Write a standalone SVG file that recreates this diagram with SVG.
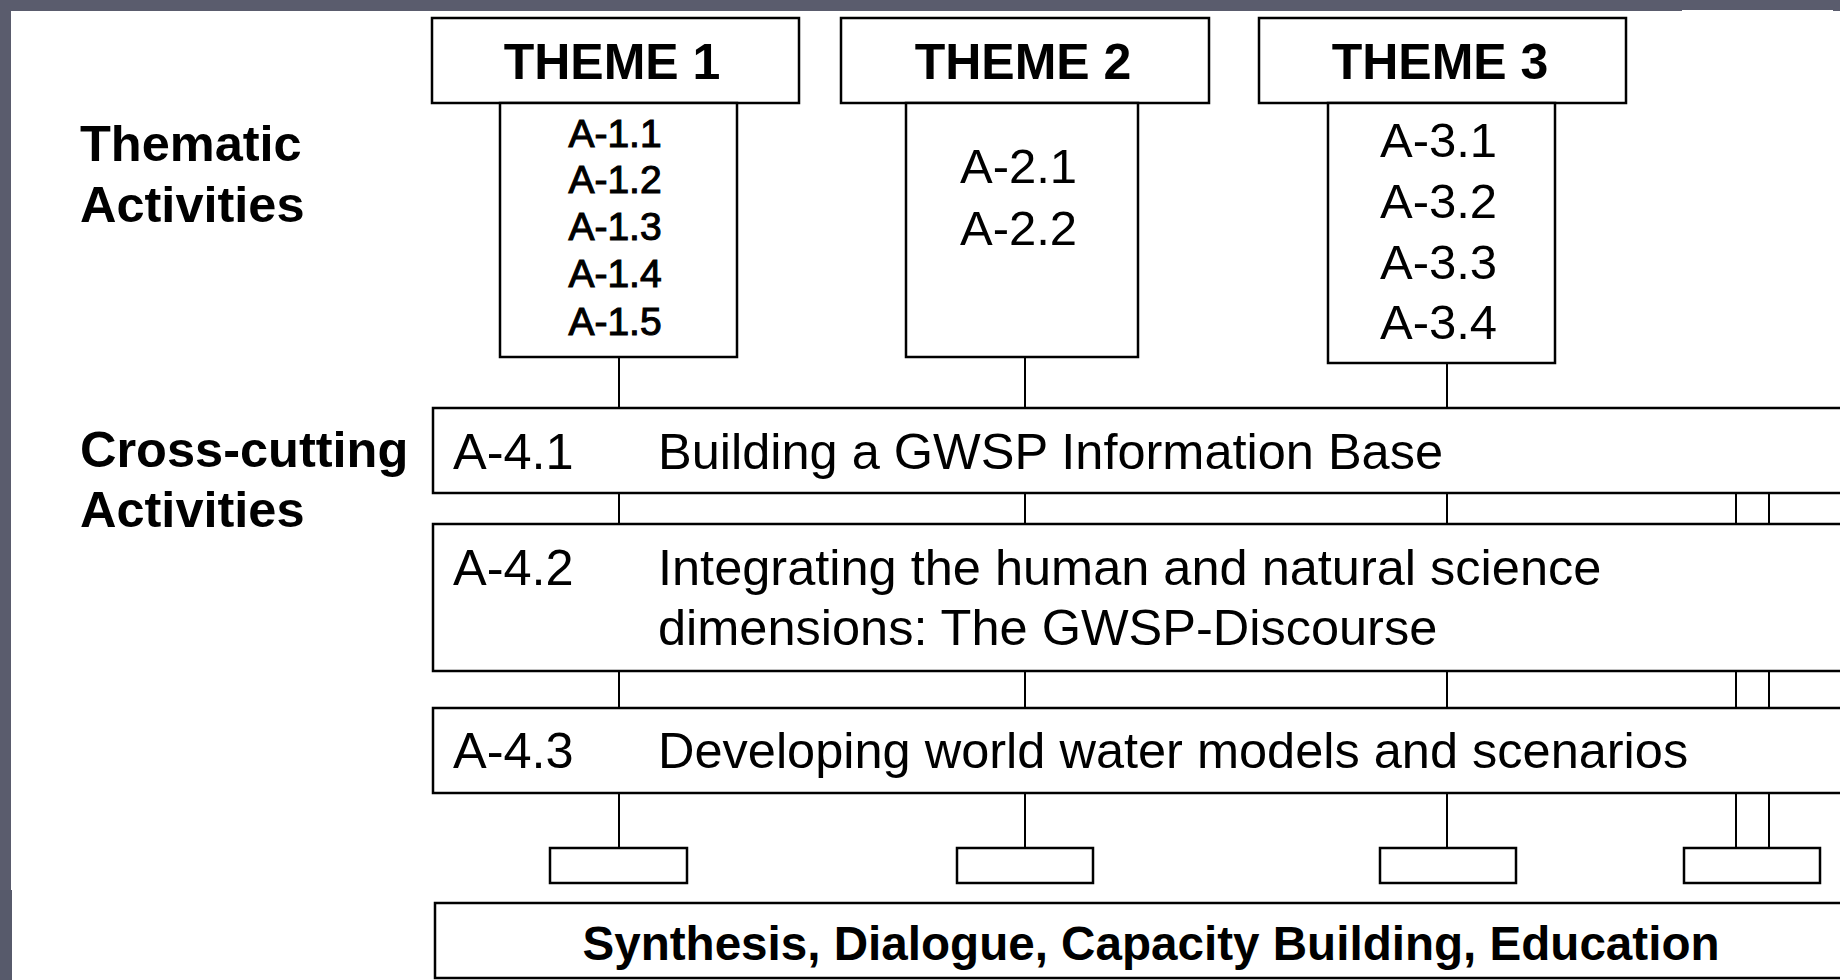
<svg xmlns="http://www.w3.org/2000/svg" width="1840" height="980" viewBox="0 0 1840 980">
  <style>
    .box { fill: #ffffff; stroke: #000000; stroke-width: 2.5; }
    .link { stroke: #000000; stroke-width: 2; fill: none; }
    text { font-family: "Liberation Sans", Arial, Helvetica, sans-serif; fill: #000000; }
    .label { font-size: 50.5px; font-weight: bold; }
    .theme { font-size: 50px; font-weight: bold; text-anchor: middle; }
    .act1 { font-size: 39px; text-anchor: middle; stroke: #000000; stroke-width: 1.1; }
    .act { font-size: 49px; }
    .cross { font-size: 50.5px; }
    .synth { font-size: 47.6px; font-weight: bold; text-anchor: middle; }
  </style>

  <!-- slide frame -->
  <rect x="0" y="0" width="1840" height="980" fill="#ffffff"/>
  <rect x="0" y="0" width="1840" height="11" fill="#5a5c6d"/>
  <rect x="0" y="0" width="11" height="890" fill="#5a5c6d"/>
  <rect x="0" y="890" width="12" height="90" fill="#575a6b"/>
  <rect x="1682" y="10" width="151" height="397" fill="#ffffff"/>

  <!-- row labels -->
  <g id="label-thematic">
    <text class="label" x="80" y="161">Thematic</text>
    <text class="label" x="80" y="222">Activities</text>
  </g>
  <g id="label-crosscutting">
    <text class="label" x="80" y="467">Cross-cutting</text>
    <text class="label" x="80" y="527">Activities</text>
  </g>

  <!-- connectors -->
  <g id="connectors">
    <line class="link" x1="619" y1="357" x2="619" y2="408"/>
    <line class="link" x1="1025" y1="357" x2="1025" y2="408"/>
    <line class="link" x1="1447" y1="363" x2="1447" y2="408"/>

    <line class="link" x1="619" y1="493" x2="619" y2="524"/>
    <line class="link" x1="1025" y1="493" x2="1025" y2="524"/>
    <line class="link" x1="1447" y1="493" x2="1447" y2="524"/>
    <line class="link" x1="1736" y1="493" x2="1736" y2="524"/>
    <line class="link" x1="1769" y1="493" x2="1769" y2="524"/>

    <line class="link" x1="619" y1="671" x2="619" y2="708"/>
    <line class="link" x1="1025" y1="671" x2="1025" y2="708"/>
    <line class="link" x1="1447" y1="671" x2="1447" y2="708"/>
    <line class="link" x1="1736" y1="671" x2="1736" y2="708"/>
    <line class="link" x1="1769" y1="671" x2="1769" y2="708"/>

    <line class="link" x1="619" y1="793" x2="619" y2="848"/>
    <line class="link" x1="1025" y1="793" x2="1025" y2="848"/>
    <line class="link" x1="1447" y1="793" x2="1447" y2="848"/>
    <line class="link" x1="1736" y1="793" x2="1736" y2="848"/>
    <line class="link" x1="1769" y1="793" x2="1769" y2="848"/>
  </g>

  <!-- themes -->
  <g id="theme1">
    <rect class="box" x="432" y="18" width="367" height="85"/>
    <text class="theme" x="612" y="79">THEME 1</text>
  </g>
  <g id="theme1-activities">
    <rect class="box" x="500" y="103" width="237" height="254"/>
    <text class="act1" x="615" y="147">A-1.1</text>
    <text class="act1" x="615" y="193">A-1.2</text>
    <text class="act1" x="615" y="240">A-1.3</text>
    <text class="act1" x="615" y="287">A-1.4</text>
    <text class="act1" x="615" y="335">A-1.5</text>
  </g>

  <g id="theme2">
    <rect class="box" x="841" y="18" width="368" height="85"/>
    <text class="theme" x="1023" y="79">THEME 2</text>
  </g>
  <g id="theme2-activities">
    <rect class="box" x="906" y="103" width="232" height="254"/>
    <text class="act" x="960" y="183">A-2.1</text>
    <text class="act" x="960" y="245">A-2.2</text>
  </g>

  <g id="theme3">
    <rect class="box" x="1259" y="18" width="367" height="85"/>
    <text class="theme" x="1440" y="79">THEME 3</text>
  </g>
  <g id="theme3-activities">
    <rect class="box" x="1328" y="103" width="227" height="260"/>
    <text class="act" x="1380" y="157">A-3.1</text>
    <text class="act" x="1380" y="218">A-3.2</text>
    <text class="act" x="1380" y="279">A-3.3</text>
    <text class="act" x="1380" y="339">A-3.4</text>
  </g>

  <!-- cross-cutting activities -->
  <g id="a41">
    <rect class="box" x="433" y="408" width="1430" height="85"/>
    <text class="cross" x="453" y="469">A-4.1</text>
    <text class="cross" x="658" y="469">Building a GWSP Information Base</text>
  </g>
  <g id="a42">
    <rect class="box" x="433" y="524" width="1430" height="147"/>
    <text class="cross" x="453" y="585">A-4.2</text>
    <text class="cross" x="658" y="585">Integrating the human and natural science</text>
    <text class="cross" x="658" y="645">dimensions: The GWSP-Discourse</text>
  </g>
  <g id="a43">
    <rect class="box" x="433" y="708" width="1430" height="85"/>
    <text class="cross" x="453" y="768">A-4.3</text>
    <text class="cross" x="658" y="768">Developing world water models and scenarios</text>
  </g>

  <!-- output slots -->
  <g id="slot1"><rect class="box" x="550" y="848" width="137" height="35"/></g>
  <g id="slot2"><rect class="box" x="957" y="848" width="136" height="35"/></g>
  <g id="slot3"><rect class="box" x="1380" y="848" width="136" height="35"/></g>
  <g id="slot4"><rect class="box" x="1684" y="848" width="136" height="35"/></g>

  <!-- synthesis bar -->
  <g id="synthesis">
    <rect class="box" x="435" y="903" width="1430" height="75"/>
    <text class="synth" x="1151" y="960">Synthesis, Dialogue, Capacity Building, Education</text>
  </g>
</svg>
